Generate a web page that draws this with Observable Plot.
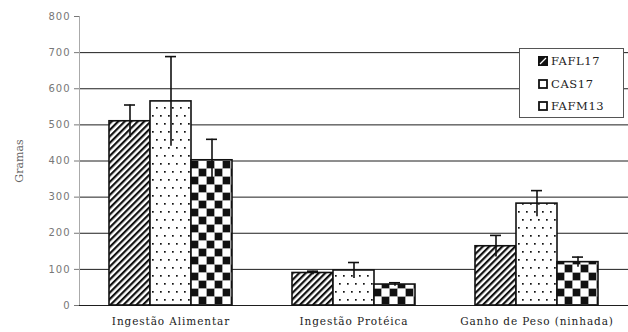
<!DOCTYPE html>
<html><head><meta charset="utf-8">
<script src="https://cdn.jsdelivr.net/npm/d3@7"></script>
<script src="https://cdn.jsdelivr.net/npm/@observablehq/plot@0.6"></script>
<style>
html,body{margin:0;padding:0;background:#fff;}
#wrap{position:relative;width:628px;height:332px;overflow:hidden;background:#fff;}
#wrap svg{position:absolute;left:0;top:0;background:transparent !important;}
#bars text{letter-spacing:0.9px;}
#legend{position:absolute;left:519px;top:48px;width:103px;height:68px;border:1px solid #555;background:#fff;
  font-family:"DejaVu Serif",serif;font-size:11.5px;color:#222;letter-spacing:0.6px;}
#legend .it{position:absolute;left:18px;height:14px;line-height:14px;display:flex;align-items:center;}
#legend svg{position:static !important;margin-right:3px;}
</style></head><body><div id="wrap"><div id="gridlayer"></div><div id="bars"></div><div id="legend"></div></div>
<script>
const categories = ["Ingestão Alimentar", "Ingestão Protéica", "Ganho de Peso (ninhada)"];
const series = ["FAFL17", "CAS17", "FAFM13"];
const fafl17 = [510, 90, 164];
const fafl17Err = [45, 5, 30];
const cas17 = [565, 97, 282];
const cas17Err = [124, 22, 36];
const fafm13 = [402, 58, 120];
const fafm13Err = [58, 5, 14];
const yTicks = [0, 100, 200, 300, 400, 500, 600, 700, 800];
const yLabel = "Gramas";

const values = {FAFL17: fafl17, CAS17: cas17, FAFM13: fafm13};
const errors = {FAFL17: fafl17Err, CAS17: cas17Err, FAFM13: fafm13Err};
const rows = [];
categories.forEach((c, i) => series.forEach(s => rows.push({cat: c, series: s, value: values[s][i], err: errors[s][i]})));

const W = 628, H = 332, mT = 16, mB = 27, mL = 79, mR = 0;
const yDomain = [0, 800];

// background layer: gridlines + y axis
const grid = Plot.plot({
  width: W, height: H, marginTop: mT, marginBottom: mB, marginLeft: mL, marginRight: mR,
  style: {fontFamily: "DejaVu Sans, sans-serif", fontSize: "10px", color: "#777", background: "transparent"},
  x: {domain: [0, 1], axis: null},
  y: {domain: yDomain, ticks: yTicks, tickSize: 5, tickPadding: 4, tickFormat: d3.format("d"), label: null},
  marks: [
    Plot.ruleY(yTicks.filter(t => t < 800), {stroke: "#1e1e1e", strokeWidth: 1}),
    Plot.ruleX([0], {stroke: "#aaa", strokeWidth: 1}),
    Plot.text([yLabel], {frameAnchor: "left", dx: -60, rotate: -90, textAnchor: "middle", fill: "#666",
      fontFamily: "DejaVu Serif, serif", fontSize: 11})
  ]
});
document.getElementById("gridlayer").appendChild(grid);
d3.select(grid).selectAll("g[aria-label='y-axis tick label'] text, g[aria-label='y-axis'] text").style("letter-spacing", "1px");

// bars layer
const bars = Plot.plot({
  width: W, height: H, marginTop: mT, marginBottom: mB, marginLeft: mL, marginRight: mR,
  style: {fontFamily: "DejaVu Serif, serif", fontSize: "10.5px", color: "#222", background: "transparent"},
  fx: {domain: categories, paddingInner: 0.33, paddingOuter: 0.165, axis: "bottom", tickSize: 0, tickPadding: 12, label: null},
  x: {domain: series, axis: null, padding: 0},
  y: {domain: yDomain, axis: null},
  color: {domain: series, range: ["url(#pHatch)", "url(#pDots)", "url(#pCheck)"]},
  marks: [
    Plot.barY(rows, {fx: "cat", x: "series", y: "value", fill: "series", stroke: "#111", strokeWidth: 1.6}),
    Plot.ruleX(rows, {fx: "cat", x: "series", y1: d => d.value - d.err, y2: d => d.value + d.err, stroke: "#111", strokeWidth: 1.6}),
    Plot.tickY(rows, {fx: "cat", x: "series", y: d => d.value + d.err, insetLeft: 15, insetRight: 15, stroke: "#111", strokeWidth: 1.6})
  ]
});
const barSvg = bars.tagName.toLowerCase() === "svg" ? bars : bars.querySelector("svg");
d3.select(barSvg).insert("defs", ":first-child").html(`
  <pattern id="pHatch" patternUnits="userSpaceOnUse" width="4.6" height="4.6" patternTransform="rotate(45)">
    <rect width="4.6" height="4.6" fill="#fff"/><rect width="2.2" height="4.6" fill="#111"/>
  </pattern>
  <pattern id="pDots" patternUnits="userSpaceOnUse" width="8" height="16">
    <rect width="8" height="16" fill="#fff"/><rect x="2" y="3" width="1.7" height="1.7" fill="#111"/>
    <rect x="6" y="11" width="1.7" height="1.7" fill="#111"/>
  </pattern>
  <pattern id="pCheck" patternUnits="userSpaceOnUse" width="16" height="16">
    <rect width="16" height="16" fill="#fff"/>
    <path d="M0 0.5H16M0 8.5H16M0.5 0V16M8.5 0V16" stroke="#aaa" stroke-width="1"/>
    <rect x="1" y="1" width="7" height="7" fill="#111"/>
    <rect x="9" y="9" width="7" height="7" fill="#111"/>
  </pattern>`);
document.getElementById("bars").appendChild(bars);

// legend
const legend = d3.select("#legend");
const swatch = {
  FAFL17: `<svg width="10" height="10"><rect x="0.5" y="0.5" width="9" height="9" fill="#111" stroke="#111"/><path d="M2 8L8 2" stroke="#fff" stroke-width="1.3"/></svg>`,
  CAS17: `<svg width="10" height="10"><rect x="1" y="1" width="8" height="8" fill="#fff" stroke="#111" stroke-width="1.8"/></svg>`,
  FAFM13: `<svg width="10" height="10"><rect x="1" y="1" width="8" height="8" fill="#fff" stroke="#111" stroke-width="1.8"/></svg>`
};
series.forEach((s, i) => {
  legend.append("div").attr("class", "it").style("top", (5 + i * 22.5) + "px").html(swatch[s] + `<span>${s}</span>`);
});
</script></body></html>
